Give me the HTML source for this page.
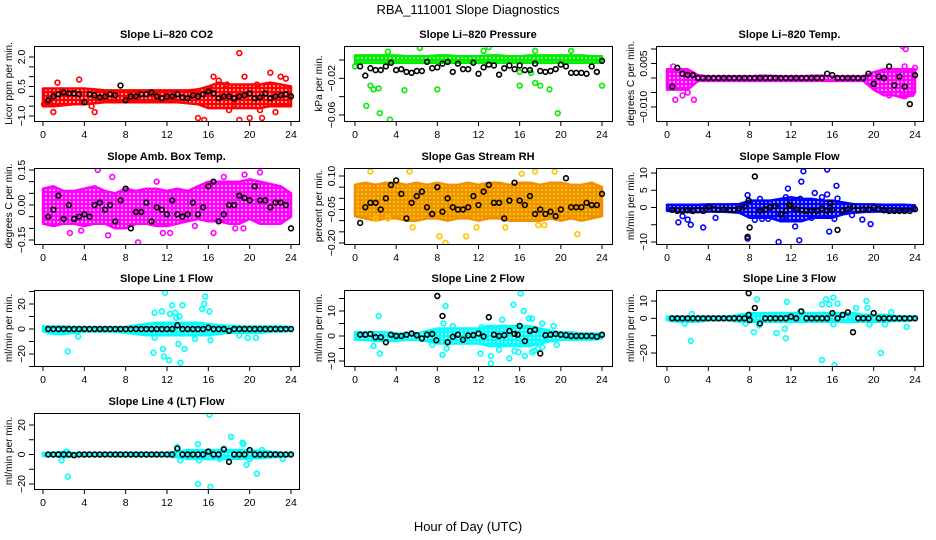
<!DOCTYPE html>
<html><head><meta charset="utf-8"><style>
html,body{margin:0;padding:0;background:#fff;}
svg{display:block;font-family:"Liberation Sans",Arial,sans-serif;}
</style></head><body>
<svg id="chart" width="936" height="540" viewBox="0 0 936 540" xmlns="http://www.w3.org/2000/svg">
<text x="468" y="14" text-anchor="middle" font-size="13">RBA_111001  Slope Diagnostics</text>
<text x="468" y="531" text-anchor="middle" font-size="13">Hour of Day (UTC)</text>
</svg>
<script>
// ---------- data ----------
const hours = [0,1,2,3,4,5,6,7,8,9,10,11,12,13,14,15,16,17,18,19,20,21,22,23,24];
const xTicks = [0,4,8,12,16,20,24];
const halfHours = Array.from({length:48},(_,i)=>0.5*(i+1));

const co2Hi = [0.4,0.4,0.4,0.4,0.4,0.35,0.3,0.3,0.3,0.3,0.3,0.3,0.3,0.3,0.3,0.35,0.5,0.7,0.6,0.6,0.6,0.6,0.7,0.6,0.5];
const co2Lo = [-0.5,-0.5,-0.45,-0.4,-0.4,-0.35,-0.3,-0.3,-0.3,-0.3,-0.3,-0.3,-0.3,-0.3,-0.35,-0.4,-0.6,-0.6,-0.6,-0.6,-0.6,-0.6,-0.5,-0.5,-0.5];
const co2OutX = [0.1,1,1.4,3.5,4.7,5,15,15.6,16.5,17,18,19,19,19.5,20,21,21.2,22,22.5,23,23.5,18.5,17.8,20.7];
const co2OutY = [-0.4,-0.8,0.7,0.85,-0.5,-0.8,-1.1,-1.2,1.0,0.8,-0.7,2.2,-1.2,1.0,-1.1,-0.7,-1.1,1.2,-0.8,1.0,0.9,-0.4,0.6,0.6];
const co2Black = [-0.2,0,0.1,0.2,0.15,0.15,0.1,-0.3,0.1,0.05,-0.05,0,0.1,0.05,0.55,-0.2,0,0,0.1,0.1,0.2,0,-0.1,0,0,0.1,-0.05,-0.1,0.05,0,0.1,0.25,0.15,-0.1,0,0,-0.1,0,0.05,0.15,-0.1,-0.05,0.15,-0.1,0,0.05,0.1,0];
const co2Ticks = [-1,-0.5,0,0.5,1,1.5,2];
const co2Labels = ["-1.0","","","0.5","","","2.0"];

const presHi = [0.005,0.005,0.005,0.005,0.005,0.004,0.004,0.004,0.005,0.005,0.004,0.004,0.004,0.005,0.005,0.004,0.004,0.005,0.005,0.005,0.005,0.005,0.005,0.004,0.004];
const presLo = [-0.003,-0.003,-0.003,-0.003,-0.003,-0.003,-0.003,-0.003,-0.003,-0.003,-0.003,-0.003,-0.003,-0.003,-0.003,-0.003,-0.003,-0.003,-0.003,-0.003,-0.003,-0.003,-0.003,-0.003,-0.003];
const presOutX = [1.1,1.5,1.8,2.3,2.4,3.4,4.8,8,16,17.5,18,18.9,19.7,24,6.3,13,17.5,21,12.5,3.2,0,16,17.1,23.5];
const presOutY = [-0.05,-0.028,-0.032,-0.031,-0.058,-0.065,-0.033,-0.032,-0.028,-0.025,-0.028,-0.032,-0.058,-0.028,0.013,0.014,0.01,0.01,0.01,0.009,-0.007,-0.013,-0.014,-0.013];
const presBlack = [-0.007,-0.017,-0.009,-0.011,-0.011,-0.007,-0.003,-0.011,-0.01,-0.013,-0.014,-0.012,-0.012,-0.002,-0.009,-0.008,-0.004,-0.002,-0.013,-0.004,-0.01,-0.01,-0.003,-0.015,-0.008,-0.005,-0.006,-0.016,-0.009,-0.006,-0.01,-0.006,-0.011,-0.011,-0.004,-0.012,-0.013,-0.012,-0.01,-0.005,-0.007,-0.014,-0.014,-0.014,-0.015,-0.007,-0.013,-0.001];
const presTicks = [0,-0.02,-0.04,-0.06];
const presLabels = ["","-0.02","","-0.06"];

const tempHi = [0.003,0.003,0.003,0.001,0.0005,0.0005,0.0005,0.0005,0.0005,0.0008,0.0008,0.0005,0.0005,0.0005,0.0008,0.0008,0.0005,0.0005,0.0005,0.0005,0.002,0.003,0.003,0.003,0.003];
const tempLo = [-0.004,-0.004,-0.004,-0.001,-0.001,-0.001,-0.001,-0.001,-0.001,-0.001,-0.001,-0.001,-0.001,-0.001,-0.001,-0.001,-0.001,-0.001,-0.001,-0.001,-0.004,-0.006,-0.006,-0.007,-0.005];
const tempOutX = [0.6,0.8,1.5,2,2.6,22.8,23.1,23.4,23,23.7,24,22.9,21.5];
const tempOutY = [0.004,-0.0075,-0.006,-0.005,-0.0075,0.011,0.01,-0.017,0.004,-0.0055,0.0035,-0.006,-0.006];
const tempBlack = [-0.003,0.0035,0.0015,0.001,0.001,0,0,0,0,0,0,0,0,0,0,0,0,0,0,0,0,0,0,0,0,0,0,0,0,0,0.0015,0.001,0,0,0,0,0,0,0.0015,-0.002,0.0005,0,0.004,-0.0025,0.0005,-0.003,-0.009,0.001];
const tempTicks = [0.01,0.005,0,-0.005,-0.01];
const tempLabels = ["","0.005","","","-0.010"];

const ambHi = [0.07,0.08,0.06,0.06,0.07,0.08,0.06,0.05,0.07,0.06,0.07,0.07,0.06,0.07,0.06,0.08,0.1,0.1,0.1,0.1,0.11,0.1,0.09,0.08,0.05];
const ambLo = [-0.08,-0.09,-0.08,-0.08,-0.09,-0.08,-0.08,-0.1,-0.1,-0.08,-0.08,-0.09,-0.09,-0.08,-0.07,-0.06,-0.07,-0.07,-0.08,-0.08,-0.06,-0.08,-0.08,-0.08,-0.05];
const ambOutX = [5.3,6.7,9.2,6.3,2.6,3.7,11.6,12.3,16.5,18.6,19.4,21,19.5,17.5,11,14.7];
const ambOutY = [0.15,0.12,-0.16,-0.13,-0.12,-0.11,-0.12,-0.12,-0.12,-0.1,-0.1,0.14,0.13,0.12,0.1,-0.09];
const ambBlack = [-0.05,-0.02,0.04,-0.06,0.0,-0.06,-0.05,-0.04,-0.05,0.0,0.01,-0.02,0.0,-0.07,0.02,0.07,-0.1,-0.03,-0.03,0.01,-0.07,-0.01,-0.02,-0.04,0.02,-0.04,-0.05,-0.04,0.01,-0.04,-0.01,0.08,0.1,-0.07,-0.04,0.0,0.0,0.04,0.03,0.02,0.08,0.02,0.02,-0.01,0.01,0.01,0.0,-0.1];
const ambTicks = [0.15,0.1,0.05,0,-0.05,-0.1,-0.15];
const ambLabels = ["0.15","","","0.00","","","-0.15"];

const rhHi = [0.06,0.07,0.06,0.07,0.07,0.06,0.07,0.06,0.07,0.06,0.06,0.07,0.06,0.07,0.07,0.06,0.07,0.07,0.06,0.07,0.07,0.06,0.06,0.07,0.05];
const rhLo = [-0.08,-0.09,-0.1,-0.09,-0.09,-0.1,-0.1,-0.09,-0.09,-0.1,-0.09,-0.09,-0.1,-0.09,-0.09,-0.1,-0.1,-0.1,-0.1,-0.09,-0.1,-0.09,-0.1,-0.09,-0.08];
const rhOutX = [1.5,5.3,8.2,8.8,10.8,16.2,17.5,19.4,21.6,5.6,11.8,14.6,17.8,18.4,2,3.2];
const rhOutY = [0.12,0.12,-0.17,-0.2,-0.17,0.11,0.12,0.12,-0.16,-0.13,-0.13,-0.13,-0.12,-0.12,-0.09,-0.09];
const rhBlack = [-0.11,-0.04,-0.02,-0.02,-0.05,0.0,0.06,0.08,0.02,-0.09,-0.02,0.01,0.03,-0.04,-0.07,0.05,-0.06,0.0,-0.04,-0.05,-0.05,-0.04,0.01,-0.03,0.03,0.06,-0.02,-0.02,-0.09,-0.01,0.07,-0.01,-0.03,0.01,-0.07,-0.05,-0.07,-0.06,-0.08,-0.05,0.09,-0.04,-0.04,-0.04,-0.02,-0.03,-0.03,0.02];
const rhTicks = [0.1,0.05,0,-0.05,-0.1,-0.15,-0.2];
const rhLabels = ["0.10","","","-0.05","","","-0.20"];

const sampHi = [0.8,0.8,0.8,0.8,0.9,0.9,0.9,1,2,2,2,2.5,3,2.5,2.5,2,2,1.5,1,0.9,0.9,0.8,0.8,0.8,0.6];
const sampLo = [-1,-1.2,-1.3,-1.3,-1.2,-1.2,-1.3,-1.5,-3,-3,-3,-4,-4,-4,-3,-3,-3,-2,-1.5,-1.3,-1.2,-1.2,-1.1,-1.1,-0.8];
const sampOutX = [1.1,1.5,2,2.3,3.5,4.7,7.8,7.8,9.8,10.8,11.7,12.8,13,13.2,12.9,14.3,15.5,15.5,16.4,16.5,15.7,16.2,19.7,18.9,17.9,9,11.3,12.4,9.2,14,15,11.5,8.5];
const sampOutY = [-4.3,-2.5,-3.5,-5,-5.8,-3,3.6,-9,-3.3,-10,5.5,-9.5,7.5,10.5,2.5,4.2,11,3.8,6.3,2.6,-7,-3.3,-4.8,-3.5,-2.2,2.5,-3.3,-5.5,-3.3,-3,3,3,-3.6];
const sampBlack = [-0.7,-1,-1,-0.8,-1,-0.8,-1,0.2,-0.5,-0.7,-0.5,-0.7,-0.8,-0.3,0.2,-5.8,9,-1,-0.5,0,0.3,-2,-1,0.5,-0.5,-0.8,-1,-1,-1,-0.3,-1,-0.7,-6.5,-1,-0.5,0.3,-0.8,-0.5,-0.5,0,-0.4,-0.8,-1,-1,-1,-1,-1,-0.5];
const sampExtraX = [7.8,7.9,15.8,11.8];
const sampExtraY = [-8.5,2,1.2,0.8];
const sampTicks = [10,5,0,-5,-10];
const sampLabels = ["10","5","0","","-10"];

const l1Hi = [2,2,2,1.5,1.5,1.5,1.5,1.5,1.5,3,4,5,5,5,5,5,4,3,2.5,2,2,2,2,2,1.5];
const l1Lo = [-2,-4,-4,-3,-2,-2,-2,-2,-3,-4,-5,-5,-5,-5,-5,-5,-5,-4,-3,-3,-3,-3,-2,-2,-1.5];
const l1OutX = [2.4,3.4,10.7,10.8,10.8,11.5,11.6,11.7,11.8,12.2,12.3,12.5,12.8,13.1,13.3,13.5,13.7,15.4,15.6,15.7,16.1,16.2,14.7,19.8,20.6,19,12.9,13.2];
const l1OutY = [-18,-6,-19,-7,13,14,-16,-22,29,-25,12,19,13,-12,-27,19,-16,16,20,26,14,-9,-8,-7,-7,-5,9,10];
const l1Black = [0,0,0,0,0,0,0,0,0,0,0,0,0,0,0,0,0,0,0,0,0,0,0,0,0,3,0,0,0,0,0,1,0,0,0,-1.5,0,0,0,0,0,0,0,0,0,0,0,0];
const l1Ticks = [30,20,10,0,-10,-20,-30];
const l1Labels = ["","20","","0","","-20",""];

const l2Hi = [1.5,1.5,1.5,1.5,1,1,1,2,3,3,3,3,3,4,4,4,4,4,3,2,1.5,1.5,1,1,1];
const l2Lo = [-1.5,-1.5,-2,-2,-2,-1.5,-1.5,-2,-3,-3,-3,-3,-3,-4,-4,-4,-4,-4,-3,-2,-1.5,-1.5,-1.5,-1.5,-1];
const l2OutX = [1.8,2.3,2.4,7.5,8.5,8.8,8.6,8.9,12.2,13.2,13.2,14.3,15,15.4,16.1,16.4,16.5,16.9,17.2,17.2,17.4,18.2,18.2,19.3,19.6,13,15.5,15.9,17.8,9.5,12.3,14];
const l2OutY = [-4,8,-7,-3.5,-7.5,12,5,-5,-7,-11,-8,6.5,-9,12.5,17,10,-8,7,7,-6.5,-6,5,-4.5,4,-3.5,7.5,-6,-6.5,-5,4,3.5,-5.5];
const l2Black = [0.5,0.5,0.8,-0.5,-0.5,-2.5,0.5,0,0,0.5,1,0.3,-1,0.5,0.8,16,8,-2.5,-0.3,0.5,-1.5,0.2,0.3,1,-0.2,7.5,0.5,0,0.3,2,0.8,4,-2,2,2.5,-7,0.3,0.5,0.8,0.5,0.3,0,0,0,0,0,-0.3,0.5];
const l2ExtraX = [7.9,15.8];
const l2ExtraY = [-1.7,0.5];
const l2Ticks = [15,10,5,0,-5,-10];
const l2Labels = ["","10","","0","","-10"];

const l3Hi = [1,1,1,1,1,1,1,2,3,3,3,3,3,3,3,3,3,3,3,2,2,2,1.5,1,1];
const l3Lo = [-1,-2,-2,-2,-1,-1,-1,-2,-2,-2,-2,-2,-2,-2,-2,-2,-2,-2,-2,-2,-2,-2,-1.5,-1.5,-1];
const l3OutX = [1.7,2.3,2.4,7.6,8.4,8.7,8.9,10.6,11.4,11.5,11.6,15,15,15.4,15.7,16.1,16.2,16.1,16.5,18.3,19.3,19.4,19.6,20.7,21.1,21.7,23.2,12.9];
const l3OutY = [-3,-13,2.5,-3,-8,11,-4,-8.5,-6,-11.5,9.5,8,-24,11,8,12,-27,-3.5,8.5,6,10,6,-3.5,-20,-3.5,3.5,-5,4];
const l3Black = [0,0,0,0,0,0,0,0,0,0,0,0,0,0,0,-1,6,-3,0,0,0,0,0,1,0,4,0,0,0,0,0,3,0,2,3.5,-8,0,0,0,3,0,0,0,0,0,0,0,0];
const l3ExtraX = [7.9,7.9];
const l3ExtraY = [14.5,2];
const l3Ticks = [10,0,-10,-20];
const l3Labels = ["10","0","","-20"];

const l4Hi = [1,1,2,1,1,1,1,1,1,1,1,1,1,2,3,3,3,3,3,3,2.5,2.5,2,1,1];
const l4Lo = [-1,-1,-2,-1,-1,-1,-1,-1,-1,-1,-1,-1,-1,-2,-3,-3,-3,-3,-3,-3,-2.5,-2.5,-2,-1.5,-1];
const l4OutX = [1.8,2.4,2.3,13,13.3,15,15,15.1,16.1,16.2,17.5,18.2,19.3,19.4,19.7,20.7,23.2,17.1,20,21.2];
const l4OutY = [-4,-15,2,5,-4,7,-20,-4,27,-22,4,12,8,7,-7,-13,-3,-3,-3,3];
const l4Black = [0,0,0,0,0,-0.5,0,0,0,0,0,0,0,0,0,0,0,0,0,0,0,0,0,0,0,4,0,0,0,0,0,2,0,0,3.5,-5,0,0,0,3,0,0,0,0,0,0,0,0];
const l4Ticks = [20,10,0,-10,-20];
const l4Labels = ["20","","0","","-20"];

// ---------- layout ----------
const svg = document.getElementById('chart');
const NS = 'http://www.w3.org/2000/svg';
function mk(tag, attrs, parent){ const e=document.createElementNS(NS,tag); for(const k in attrs) e.setAttribute(k,attrs[k]); (parent||svg).appendChild(e); return e; }
const defs = mk('defs',{});

const cols = [{bx0:34,bx1:299,x0:43,x24:291},{bx0:344,bx1:612,x0:355,x24:602},{bx0:656,bx1:923,x0:667,x24:915}];
const rows = [{by0:46,by1:121},{by0:168,by1:244},{by0:290,by1:366},{by0:413,by1:489}];

const panels = [
 {name:'co2',title:'Slope Li-820 CO2',ytitle:'Licor ppm per min.',c:0,r:0,color:'#ff0000',v1:2,p1:57,v2:-1,p2:116,hi:co2Hi,lo:co2Lo,ox:co2OutX,oy:co2OutY,bk:co2Black,ticks:co2Ticks,labels:co2Labels},
 {name:'pressure',title:'Slope Li-820 Pressure',ytitle:'kPa per min.',c:1,r:0,color:'#00ee00',v1:0,p1:60,v2:-0.06,p2:115,hi:presHi,lo:presLo,ox:presOutX,oy:presOutY,bk:presBlack,ticks:presTicks,labels:presLabels},
 {name:'temp',title:'Slope Li-820 Temp.',ytitle:'degrees C per min.',c:2,r:0,color:'#ff00ff',v1:0.01,p1:49,v2:-0.01,p2:107,hi:tempHi,lo:tempLo,ox:tempOutX,oy:tempOutY,bk:tempBlack,ticks:tempTicks,labels:tempLabels},
 {name:'amb-box-temp',title:'Slope Amb. Box Temp.',ytitle:'degrees C per min.',c:0,r:1,color:'#ff00ff',v1:0.15,p1:170,v2:-0.15,p2:240,hi:ambHi,lo:ambLo,ox:ambOutX,oy:ambOutY,bk:ambBlack,ticks:ambTicks,labels:ambLabels},
 {name:'gas-rh',title:'Slope Gas Stream RH',ytitle:'percent per min.',c:1,r:1,color:'#f29000',dot:'#ffee00',ocolor:'#ffc400',v1:0.1,p1:176,v2:-0.2,p2:243,hi:rhHi,lo:rhLo,ox:rhOutX,oy:rhOutY,bk:rhBlack,ticks:rhTicks,labels:rhLabels},
 {name:'sample-flow',title:'Slope Sample Flow',ytitle:'ml/min per min.',c:2,r:1,color:'#0000ff',v1:10,p1:173,v2:-10,p2:242,hi:sampHi,lo:sampLo,ox:sampOutX,oy:sampOutY,bk:sampBlack,ex:sampExtraX,ey:sampExtraY,ticks:sampTicks,labels:sampLabels},
 {name:'line1-flow',title:'Slope Line 1 Flow',ytitle:'ml/min per min.',c:0,r:2,color:'#00ffff',v1:20,p1:304,v2:-20,p2:354,hi:l1Hi,lo:l1Lo,ox:l1OutX,oy:l1OutY,bk:l1Black,ticks:l1Ticks,labels:l1Labels},
 {name:'line2-flow',title:'Slope Line 2 Flow',ytitle:'ml/min per min.',c:1,r:2,color:'#00ffff',v1:10,p1:311,v2:-10,p2:361,hi:l2Hi,lo:l2Lo,ox:l2OutX,oy:l2OutY,bk:l2Black,ex:l2ExtraX,ey:l2ExtraY,ticks:l2Ticks,labels:l2Labels},
 {name:'line3-flow',title:'Slope Line 3 Flow',ytitle:'ml/min per min.',c:2,r:2,color:'#00ffff',v1:10,p1:301,v2:-20,p2:353,hi:l3Hi,lo:l3Lo,ox:l3OutX,oy:l3OutY,bk:l3Black,ex:l3ExtraX,ey:l3ExtraY,ticks:l3Ticks,labels:l3Labels},
 {name:'line4-flow',title:'Slope Line 4 (LT) Flow',ytitle:'ml/min per min.',c:0,r:3,color:'#00ffff',v1:20,p1:425,v2:-20,p2:484,hi:l4Hi,lo:l4Lo,ox:l4OutX,oy:l4OutY,bk:l4Black,ticks:l4Ticks,labels:l4Labels}
];

panels.forEach(p=>{
  const C=cols[p.c], R=rows[p.r];
  const xs = v => C.x0 + (C.x24-C.x0)*v/24;
  const ys = v => p.p1 + (p.p2-p.p1)*(v-p.v1)/(p.v2-p.v1);
  const g = mk('g',{});
  
  
  // speckle pattern to mimic dense open circles
  const pat=mk('pattern',{id:'pat-'+p.name,width:4,height:4,patternUnits:'userSpaceOnUse'},defs);
  mk('rect',{width:4,height:4,fill:p.color},pat);
  mk('circle',{cx:2,cy:2,r:0.9,fill:p.dot||'#ffffff'},pat);
  const clipId='clip-'+p.name;
  const cp=mk('clipPath',{id:clipId},g);
  mk('rect',{x:C.bx0,y:R.by0,width:C.bx1-C.bx0,height:R.by1-R.by0},cp);
  const plot=mk('g',{'clip-path':'url(#'+clipId+')'},g);
  let pts=[];
  hours.forEach((h,i)=>pts.push(xs(h).toFixed(1)+','+ys(p.hi[i]).toFixed(1)));
  for(let i=hours.length-1;i>=0;i--) pts.push(xs(hours[i]).toFixed(1)+','+ys(p.lo[i]).toFixed(1));
  const band=mk('polygon',{points:pts.join(' '),fill:'url(#pat-'+p.name+')',stroke:p.color,'stroke-width':2.5,'stroke-linejoin':'round'},plot);
  
  
  p.ox.forEach((x,i)=>{
    const c=mk('circle',{cx:xs(x),cy:ys(p.oy[i]),r:2.4,fill:'none',stroke:p.ocolor||p.color,'stroke-width':1.6},plot);
    
    
  });
  const drawBlack=(x,y)=>{
    const c=mk('circle',{cx:xs(x),cy:ys(y),r:2.4,fill:'none',stroke:'#000','stroke-width':1.6},plot);
    
    
  };
  p.bk.forEach((y,i)=>drawBlack(halfHours[i],y));
  if(p.ex) p.ex.forEach((x,i)=>drawBlack(x,p.ey[i]));
  const box=mk('rect',{x:C.bx0+0.5,y:R.by0+0.5,width:C.bx1-C.bx0,height:R.by1-R.by0,fill:'none',stroke:'#000','stroke-width':1},g);
  
  
  xTicks.forEach(t=>{
    const x=xs(t);
    mk('line',{x1:x,x2:x,y1:R.by1,y2:R.by1+5,stroke:'#000','stroke-width':1},g);
    const tl=mk('text',{x:x,y:R.by1+17,'text-anchor':'middle','font-size':10.5},g);
    tl.textContent=t;
    
    
  });
  p.ticks.forEach((t,i)=>{
    const y=ys(t);
    mk('line',{x1:C.bx0-5,x2:C.bx0,y1:y,y2:y,stroke:'#000','stroke-width':1},g);
    if(p.labels[i]){
      const tl=mk('text',{x:0,y:0,'text-anchor':'middle','font-size':10.5,transform:'translate('+(C.bx0-9)+','+y+') rotate(-90)'},g);
      tl.textContent=p.labels[i].replace('-','\u2212');
      
      
    }
  });
  const yt=mk('text',{x:0,y:0,'text-anchor':'middle','font-size':10,transform:'translate('+(C.bx0-22)+','+((R.by0+R.by1)/2)+') rotate(-90)'},g);
  yt.textContent=p.ytitle;
  
  
  const tt=mk('text',{x:(C.bx0+C.bx1)/2,y:R.by0-8,'text-anchor':'middle','font-size':11,'font-weight':'bold'},g);
  tt.textContent=p.title.replace('-','\u2013');
  
  
});
</script>
</body></html>
